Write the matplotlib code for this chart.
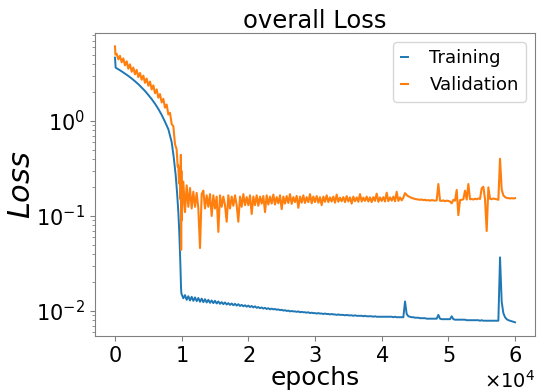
import numpy as np
import matplotlib
matplotlib.use("Agg")
import matplotlib.pyplot as plt

# =============================================================================
# Data
# =============================================================================

# before the drop (epochs < 10000)
train_early_epochs = [0, 100, 500, 1000, 1500, 2000, 2500, 3000, 3500, 4000,
                      4500, 5000, 5500, 6000, 6500, 7000, 7500, 8000, 8500, 8800,
                      9100, 9300, 9500, 9650, 9800, 9900, 9950]
train_early = [4.64, 3.64, 3.50, 3.33, 3.15, 2.98, 2.80, 2.62, 2.44, 2.25,
               2.07, 1.88, 1.70, 1.52, 1.34, 1.16, 0.98, 0.82, 0.60, 0.42,
               0.27, 0.18, 0.11, 0.065, 0.032, 0.018, 0.0155]

val_early_epochs = [0, 60, 250, 500, 750, 1000, 1250, 1500, 1750, 2000,
                    2250, 2500, 2750, 3000, 3250, 3500, 3750, 4000, 4250, 4500,
                    4750, 5000, 5250, 5500, 5750, 6000, 6250, 6500, 6750, 7000,
                    7250, 7500, 7750, 8000, 8250, 8500, 8750, 9000, 9250, 9400,
                    9500, 9600, 9700, 9780, 9830, 9880, 9920, 9960]
val_early = [6.1, 5.0, 5.1, 4.45, 4.85, 4.15, 4.55, 3.85, 4.25, 3.55,
             3.95, 3.3, 3.65, 3.1, 3.45, 2.9, 3.2, 2.72, 3.0, 2.52,
             2.8, 2.35, 2.6, 2.15, 2.37, 1.96, 2.15, 1.76, 1.92, 1.57,
             1.71, 1.38, 1.49, 1.17, 1.22, 0.93, 0.88, 0.57, 0.5, 0.33,
             0.34, 0.22, 0.25, 0.32, 0.15, 0.44, 0.044, 0.30]

# after the drop: one value every 250 epochs, 10000 .. 60000
late_epochs = np.arange(10000, 60001, 250)

train_late = [
    0.0150, 0.0136, 0.0147, 0.0131, 0.0143, 0.0129, 0.0141, 0.0128,
    0.0139, 0.0127, 0.0137, 0.0125, 0.0135, 0.0124, 0.0133, 0.0123,
    0.0131, 0.0122, 0.0129, 0.0121, 0.0128, 0.0120, 0.0126, 0.0119,
    0.0124, 0.0118, 0.0123, 0.0117, 0.0121, 0.0116, 0.0120, 0.0115,
    0.0119, 0.0114, 0.0118, 0.0113, 0.0116, 0.0112, 0.0115, 0.0111,
    0.0114, 0.0110, 0.0113, 0.0109, 0.0112, 0.0108, 0.0110, 0.0107,
    0.0109, 0.0106, 0.0108, 0.0105, 0.0107, 0.0104, 0.0106, 0.0104,
    0.0105, 0.0103, 0.0104, 0.0102, 0.0103, 0.0101, 0.0102, 0.0100,
    0.0101, 0.0099, 0.0100, 0.0099, 0.0099, 0.0098, 0.0099, 0.0097,
    0.0098, 0.0097, 0.0097, 0.0096, 0.0097, 0.0095, 0.0096, 0.0095,
    0.0095, 0.0094, 0.0095, 0.0094, 0.0094, 0.0093, 0.0094, 0.0093,
    0.0093, 0.0092, 0.0093, 0.0092, 0.0092, 0.0091, 0.0092, 0.0091,
    0.0091, 0.0091, 0.0090, 0.0091, 0.0090, 0.0090, 0.0090, 0.0089,
    0.0090, 0.0089, 0.0089, 0.0089, 0.0089, 0.0088, 0.0089, 0.0088,
    0.0088, 0.0088, 0.0088, 0.0087, 0.0088, 0.0087, 0.0087, 0.0087,
    0.0087, 0.0087, 0.0087, 0.0087, 0.0087, 0.0087, 0.0087, 0.0086,
    0.0087, 0.0086, 0.0086, 0.0086, 0.0086, 0.0086, 0.0126, 0.0093,
    0.0088, 0.0087, 0.0086, 0.0086, 0.0085, 0.0085, 0.0085, 0.0084,
    0.0084, 0.0084, 0.0084, 0.0083, 0.0083, 0.0083, 0.0083, 0.0083,
    0.0083, 0.0083, 0.0091, 0.0083, 0.0082, 0.0082, 0.0082, 0.0082,
    0.0082, 0.0082, 0.0088, 0.0082, 0.0081, 0.0081, 0.0081, 0.0081,
    0.0081, 0.0081, 0.0081, 0.0080, 0.0080, 0.0080, 0.0080, 0.0080,
    0.0080, 0.0080, 0.0080, 0.0079, 0.0080, 0.0079, 0.0079, 0.0079,
    0.0079, 0.0079, 0.0079, 0.0079, 0.0079, 0.0079, 0.0079, 0.0367,
    0.0125, 0.0095, 0.0086, 0.0082, 0.0080, 0.0079, 0.0078, 0.0077,
    0.0076,
]

val_late = [
    0.09, 0.23, 0.11, 0.21, 0.125, 0.197, 0.12, 0.18,
    0.125, 0.175, 0.12, 0.046, 0.17, 0.185, 0.12, 0.165,
    0.125, 0.17, 0.10, 0.165, 0.12, 0.16, 0.068, 0.165,
    0.125, 0.16, 0.13, 0.087, 0.165, 0.12, 0.16, 0.128,
    0.165, 0.13, 0.087, 0.16, 0.125, 0.17, 0.13, 0.158,
    0.13, 0.165, 0.105, 0.16, 0.13, 0.165, 0.128, 0.16,
    0.135, 0.162, 0.11, 0.165, 0.132, 0.16, 0.135, 0.168,
    0.132, 0.158, 0.136, 0.165, 0.118, 0.16, 0.135, 0.162,
    0.137, 0.17, 0.134, 0.158, 0.14, 0.163, 0.122, 0.16,
    0.138, 0.165, 0.137, 0.158, 0.14, 0.17, 0.136, 0.16,
    0.14, 0.162, 0.138, 0.158, 0.13, 0.16, 0.141, 0.165,
    0.14, 0.157, 0.142, 0.16, 0.138, 0.168, 0.141, 0.156,
    0.143, 0.158, 0.14, 0.162, 0.142, 0.157, 0.135, 0.16,
    0.143, 0.157, 0.141, 0.17, 0.142, 0.156, 0.144, 0.16,
    0.142, 0.157, 0.14, 0.158, 0.144, 0.172, 0.141, 0.157,
    0.144, 0.158, 0.142, 0.176, 0.143, 0.157, 0.145, 0.16,
    0.143, 0.18, 0.144, 0.157, 0.146, 0.156, 0.174, 0.166,
    0.161, 0.158, 0.155, 0.153, 0.151, 0.15, 0.149, 0.148,
    0.149, 0.147, 0.148, 0.146, 0.147, 0.145, 0.147, 0.146,
    0.145, 0.146, 0.217, 0.145, 0.144, 0.146, 0.143, 0.145,
    0.144, 0.142, 0.136, 0.148, 0.145, 0.188, 0.102, 0.147,
    0.148, 0.15, 0.185, 0.149, 0.217, 0.15, 0.151, 0.149,
    0.152, 0.15, 0.153, 0.151, 0.196, 0.203, 0.15, 0.0695,
    0.20, 0.152, 0.15, 0.153, 0.151, 0.15, 0.148, 0.40,
    0.19, 0.165, 0.158, 0.155, 0.154, 0.153, 0.154, 0.153,
    0.154,
]

x_ticks = [0, 10000, 20000, 30000, 40000, 50000, 60000]

train_epochs = np.concatenate([train_early_epochs, late_epochs])
train_loss = np.concatenate([train_early, train_late])
val_epochs = np.concatenate([val_early_epochs, late_epochs])
val_loss = np.concatenate([val_early, val_late])

# =============================================================================
# Plot
# =============================================================================

fig = plt.figure(figsize=(5.45, 3.92), dpi=100)
ax = fig.add_axes([0.1743, 0.1429, 0.8074, 0.7729])

ax.plot(train_epochs, train_loss, color='tab:blue', lw=1.4, label='Training')
ax.plot(val_epochs, val_loss, color='tab:orange', lw=1.5, label='Validation')

ax.set_yscale('log')
ax.set_xlim(-3000, 63000)
ax.set_ylim(10 ** -2.263, 10 ** 0.926)
ax.set_xticks(x_ticks)

ax.set_title('overall Loss', fontsize=17.5, pad=3)
ax.set_xlabel('epochs', fontsize=18, labelpad=0)
ax.set_ylabel('$Loss$', fontsize=22, labelpad=0)

ax.ticklabel_format(axis='x', style='sci', scilimits=(0, 0), useMathText=True)
ax.tick_params(labelsize=15, colors='gray', labelcolor='black')
ax.tick_params(which='minor', colors='gray')
ax.xaxis.get_offset_text().set_fontsize(14)
ax.xaxis.get_offset_text().set_color('black')
for sp in ax.spines.values():
    sp.set_color('gray')

ax.legend(loc='upper right', fontsize=13, handlelength=0.4, handletextpad=1.2)

fig.savefig('out.png', dpi=100)
